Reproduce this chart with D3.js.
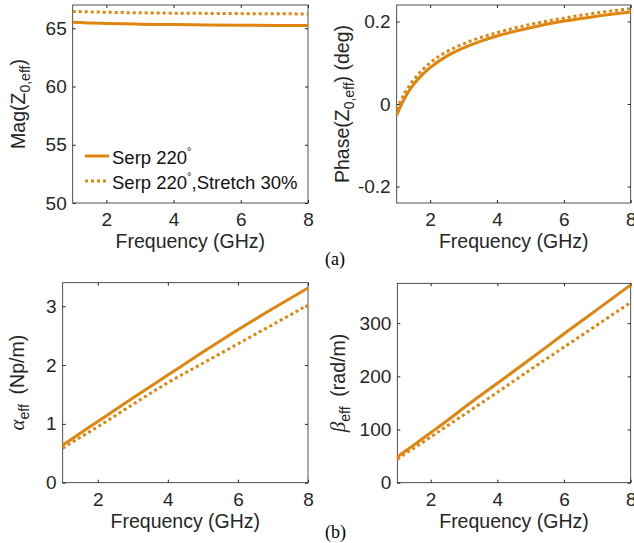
<!DOCTYPE html>
<html>
<head>
<meta charset="utf-8">
<script src="https://cdn.jsdelivr.net/npm/d3@7"></script>
<style>
  body { margin: 0; background: #fff; }
  svg { display: block; font-family: "Liberation Sans", Arial, Helvetica, sans-serif; }
</style>
</head>
<body>
<svg id="chart" width="634" height="543"></svg>
<script>
// frequency samples (GHz)
const freq = [1, 1.25, 1.5, 2, 2.5, 3, 4, 5, 6, 7, 8];
const freqPhase = [1, 1.1, 1.25, 1.5, 1.75, 2, 2.5, 3, 3.5, 4, 5, 6, 7, 8];

// Mag(Z0,eff)
const magSerp = [65.52, 65.49, 65.46, 65.42, 65.38, 65.35, 65.32, 65.29, 65.27, 65.25, 65.23];
const magStretch = [66.45, 66.43, 66.41, 66.38, 66.35, 66.33, 66.30, 66.28, 66.26, 66.25, 66.23];

// Phase(Z0,eff) (deg)
const phaseSerp = [-0.027, -0.008, 0.016, 0.047, 0.070, 0.088, 0.116, 0.136, 0.152, 0.165, 0.185, 0.201, 0.213, 0.223];
const phaseStretch = [-0.013, 0.004, 0.028, 0.058, 0.081, 0.100, 0.127, 0.146, 0.161, 0.173, 0.193, 0.208, 0.221, 0.231];

// alpha_eff (Np/m)
const alphaSerp = [0.64, 0.74, 0.84, 1.04, 1.24, 1.44, 1.83, 2.22, 2.6, 2.96, 3.31];
const alphaStretch = [0.585, 0.68, 0.77, 0.95, 1.14, 1.33, 1.70, 2.03, 2.36, 2.69, 3.02];

// beta_eff (rad/m)
const betaSerp = [48, 60, 71, 94, 117, 141, 187, 233, 280, 326, 372];
const betaStretch = [44, 55, 65, 86, 107, 128, 170, 213, 255, 297, 339];

const xTicks = [2, 4, 6, 8];
const seriesNames = ['Serp 220', 'Serp 220'];

const color = '#e0850f';
const axisColor = '#262626';
const svg = d3.select('#chart');

function drawPanel(p) {
    const x = d3.scaleLinear().domain([1, 8]).range([p.left, p.right]);
    const y = d3.scaleLinear().domain(p.yDomain).range([p.bottom, p.top]);
    const g = svg.append('g');

    // box
    g.append('rect')
        .attr('x', p.left).attr('y', p.top)
        .attr('width', p.right - p.left).attr('height', p.bottom - p.top)
        .attr('fill', 'none').attr('stroke', axisColor).attr('stroke-width', 0.8);

    const fmt = d => String(d);
    // bottom axis
    g.append('g')
        .attr('transform', `translate(0,${p.bottom})`)
        .call(d3.axisBottom(x).tickValues(xTicks).tickSizeInner(-3).tickSizeOuter(0).tickPadding(10).tickFormat(fmt));
    // top mirror ticks
    g.append('g')
        .attr('transform', `translate(0,${p.top})`)
        .call(d3.axisTop(x).tickValues(xTicks).tickSizeInner(-3).tickSizeOuter(0).tickFormat(''));
    // left axis
    g.append('g')
        .attr('transform', `translate(${p.left},0)`)
        .call(d3.axisLeft(y).tickValues(p.yTicks).tickSizeInner(-3).tickSizeOuter(0).tickPadding(6).tickFormat(fmt));
    // right mirror ticks
    g.append('g')
        .attr('transform', `translate(${p.right},0)`)
        .call(d3.axisRight(y).tickValues(p.yTicks).tickSizeInner(-3).tickSizeOuter(0).tickFormat(''));

    g.selectAll('.domain').remove();
    g.selectAll('.tick line').attr('stroke', axisColor);
    g.selectAll('.tick text')
        .attr('font-family', '"Liberation Sans", Arial, sans-serif')
        .attr('font-size', 19).attr('fill', axisColor);

    // lines
    const xs = p.x || freq;
    const line = vals => d3.line()
        .x((d, i) => x(xs[i]))
        .y(d => y(d))
        .curve(d3.curveMonotoneX)(vals);
    g.append('path')
        .attr('d', line(p.solid))
        .attr('fill', 'none').attr('stroke', color).attr('stroke-width', 3);
    g.append('path')
        .attr('d', line(p.dotted))
        .attr('fill', 'none').attr('stroke', color).attr('stroke-width', 3)
        .attr('stroke-dasharray', '3,3');

    // x label
    g.append('text')
        .attr('x', (p.left + p.right) / 2).attr('y', p.bottom + 45)
        .attr('text-anchor', 'middle').attr('font-size', 19.5).attr('fill', axisColor)
        .text('Frequency (GHz)');

    // y label
    const yl = g.append('text')
        .attr('transform', `translate(${p.ylabelX},${(p.top + p.bottom) / 2}) rotate(-90)`)
        .attr('text-anchor', 'middle').attr('font-size', 19.5).attr('fill', axisColor);
    p.ylabel(yl);
}

drawPanel({
    left: 72.7, right: 308, top: 5, bottom: 203,
    yDomain: [50, 67], yTicks: [50, 55, 60, 65],
    solid: magSerp, dotted: magStretch, ylabelX: 25,
    ylabel: t => {
        t.append('tspan').text('Mag(Z');
        t.append('tspan').attr('dy', 5).attr('font-size', 14).text('0,eff');
        t.append('tspan').attr('dy', -5).text(')');
    }
});

drawPanel({
    left: 396.7, right: 630.7, top: 5, bottom: 203,
    yDomain: [-0.24, 0.24], yTicks: [-0.2, 0, 0.2],
    x: freqPhase, solid: phaseSerp, dotted: phaseStretch, ylabelX: 349,
    ylabel: t => {
        t.append('tspan').text('Phase(Z');
        t.append('tspan').attr('dy', 5).attr('font-size', 14).text('0,eff');
        t.append('tspan').attr('dy', -5).text(') (deg)');
    }
});

drawPanel({
    left: 62.7, right: 308, top: 282.7, bottom: 482.7,
    yDomain: [0, 3.4], yTicks: [0, 1, 2, 3],
    solid: alphaSerp, dotted: alphaStretch, ylabelX: 24,
    ylabel: t => {
        t.append('tspan').attr('font-family', '"Liberation Serif", "Times New Roman", serif')
            .attr('font-style', 'italic').attr('font-size', 21).text('α');
        t.append('tspan').attr('dy', 5).attr('font-size', 14).text('eff');
        t.append('tspan').attr('dy', -5).text('\u2002(Np/m)');
    }
});

drawPanel({
    left: 397.3, right: 630.7, top: 283.3, bottom: 482.7,
    yDomain: [0, 375], yTicks: [0, 100, 200, 300],
    solid: betaSerp, dotted: betaStretch, ylabelX: 345,
    ylabel: t => {
        t.append('tspan').attr('font-family', '"Liberation Serif", "Times New Roman", serif')
            .attr('font-style', 'italic').attr('font-size', 21).text('β');
        t.append('tspan').attr('dy', 5).attr('font-size', 14).text('eff');
        t.append('tspan').attr('dy', -5).text('\u2002(rad/m)');
    }
});

// legend (top-left panel)
const legend = svg.append('g');
[{ dash: null, y: 156 }, { dash: '3,3', y: 181 }].forEach((d, i) => {
    legend.append('line')
        .attr('x1', 85).attr('x2', 109).attr('y1', d.y).attr('y2', d.y)
        .attr('stroke', color).attr('stroke-width', 3)
        .attr('stroke-dasharray', d.dash);
    const t = legend.append('text')
        .attr('x', 112).attr('y', d.y + 8)
        .attr('font-size', 18.5).attr('fill', '#111');
    t.append('tspan').text(seriesNames[i]);
    t.append('tspan').attr('dy', -9).attr('font-size', 11).text('°');
    if (i === 1) t.append('tspan').attr('dy', 9).text(',Stretch 30%');
});

// subfigure captions
svg.append('text').attr('x', 325).attr('y', 265)
    .attr('font-family', '"Liberation Serif", "Times New Roman", serif').attr('font-size', 18)
    .text('(a)');
svg.append('text').attr('x', 325).attr('y', 538)
    .attr('font-family', '"Liberation Serif", "Times New Roman", serif').attr('font-size', 18)
    .text('(b)');
</script>
</body>
</html>
